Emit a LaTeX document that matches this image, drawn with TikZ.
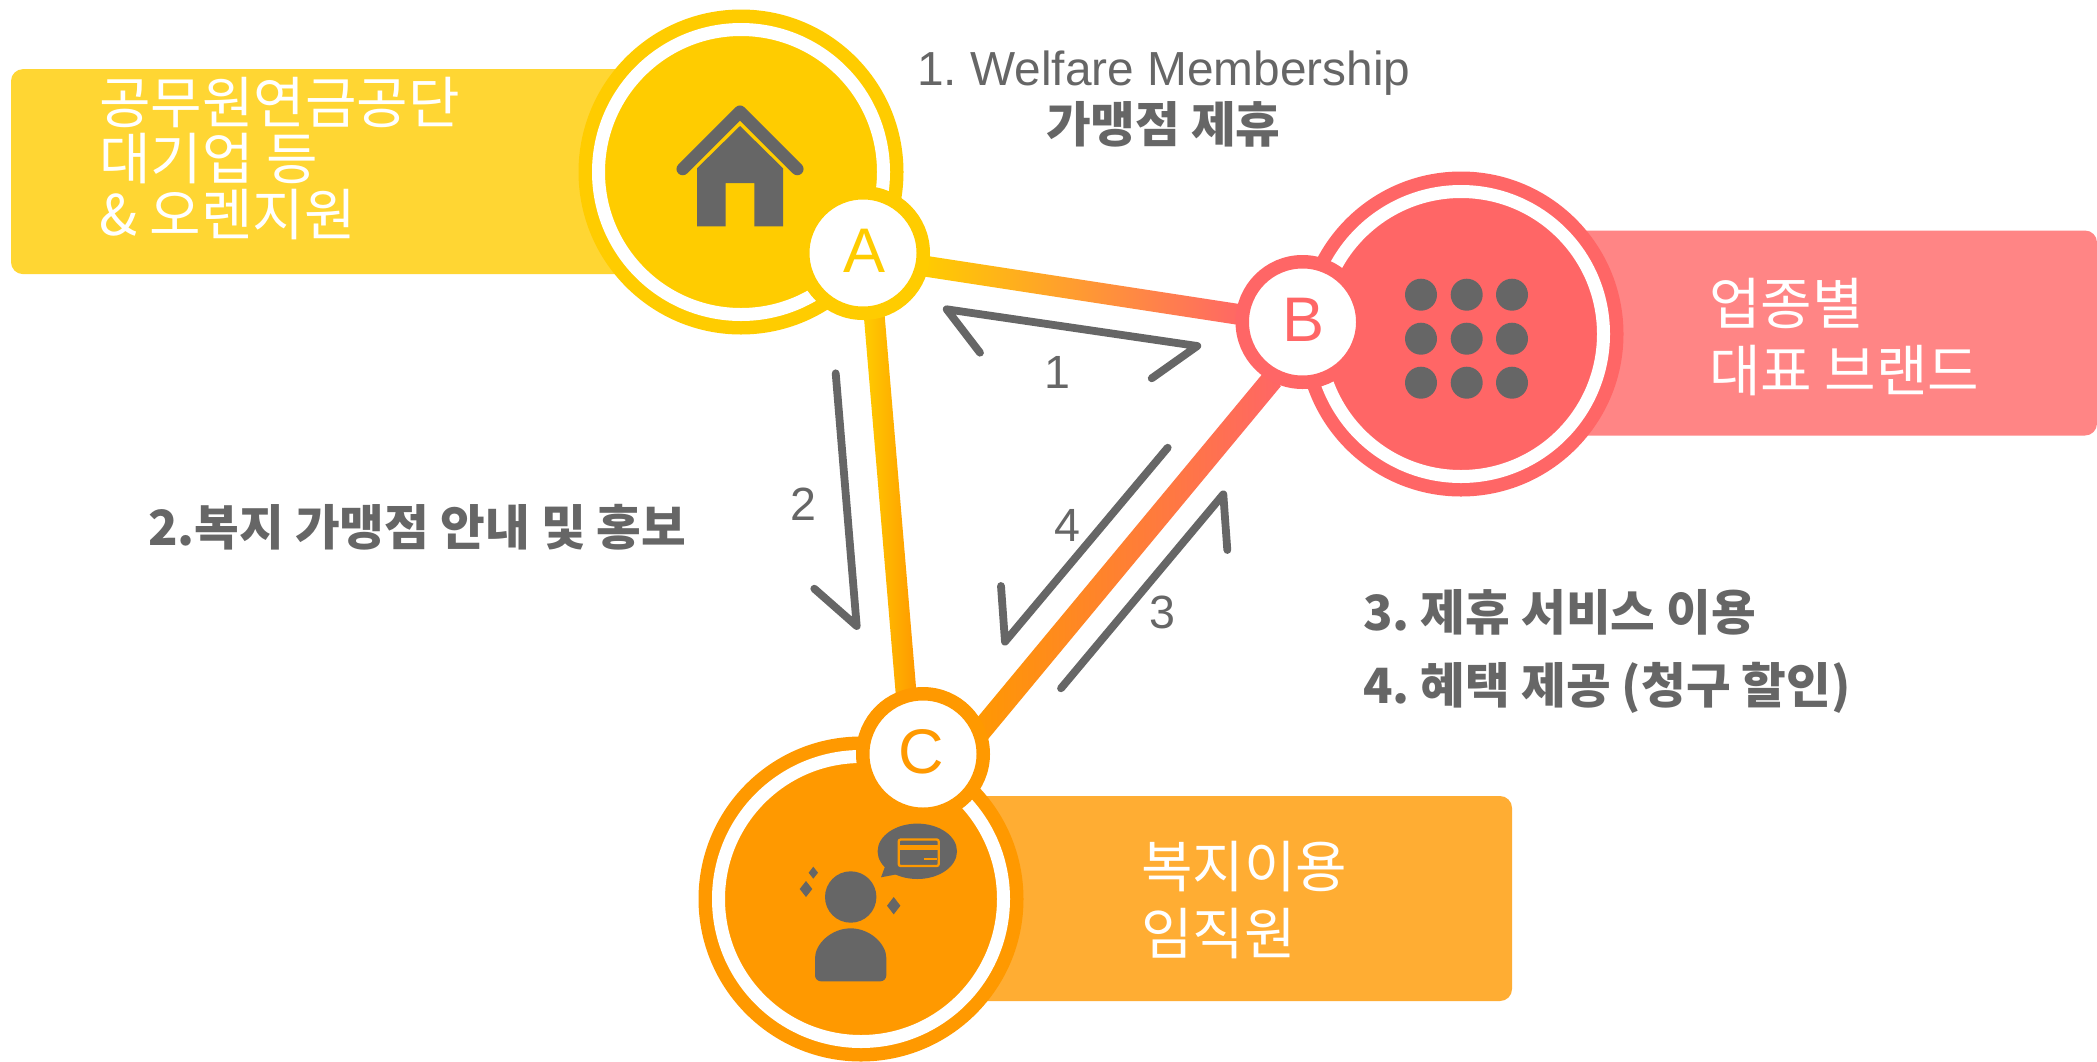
\documentclass[tikz,border=0pt]{standalone}
\usepackage{fontspec}
\setmainfont{Noto Sans CJK KR}
\newfontfamily\latinf{Liberation Sans}
\usetikzlibrary{calc}
\pgfdeclarelayer{background}
\pgfsetlayers{background,main}
\definecolor{cA}{HTML}{FFCC00}
\definecolor{cB}{HTML}{FF6666}
\definecolor{cC}{HTML}{FF9900}
\definecolor{pA}{HTML}{FFD633}
\definecolor{pB}{HTML}{FF8585}
\definecolor{pC}{HTML}{FFAD33}
\definecolor{ink}{HTML}{666666}
\tikzset{
  hub/.style={circle,draw=#1,fill=#1,double=white,double distance=13pt,line width=13.5pt,inner sep=0pt,outer sep=0pt,minimum size=285pt},
  badge/.style={circle,draw=#1,fill=white,text=#1,line width=13.5pt,inner sep=0pt,outer sep=0pt,minimum size=120.5pt,text depth=5pt,font=\latinf\fontsize{63}{63}\selectfont},
  panel/.style={rounded corners=12pt,fill=#1,inner sep=0pt,outer sep=0pt,minimum height=205pt},
  paneltext/.style={text=white,inner sep=0pt,outer sep=0pt,align=left,anchor=north west,font=\fontsize{56}{#1}\selectfont},
  boldtext/.style={text=ink,inner sep=0pt,outer sep=0pt,anchor=base west,font=\bfseries\fontsize{48.6}{49}\selectfont},
  digit/.style={text=ink,inner sep=0pt,outer sep=0pt,anchor=base,font=\latinf\fontsize{46.6}{47}\selectfont},
  flow/.style={draw=ink,line width=7.8pt,line cap=round,line join=round},
  icon/.style={fill=ink,draw=none}
}
\newcommand{\tube}[5]{\shade[left color=#1,right color=#2] ($(#3)!#5!90:(#4)$) -- ($(#3)!#5!-90:(#4)$) -- ($(#4)!#5!90:(#3)$) -- ($(#4)!#5!-90:(#3)$) -- cycle;}
\begin{document}
\frenchspacing
\begin{tikzpicture}[x=1pt,y=-1pt]
\useasboundingbox (0,0) rectangle (2097,1061);
\begin{pgfonlayer}{background}
  \fill[white] (0,0) rectangle (2097,1061);
  \node[panel=pA,minimum width=709pt] (panelA) at (365.5,171.6) {};
  \node[panel=pB,minimum width=597pt] (panelB) at (1798.5,333) {};
  \node[panel=pC,minimum width=612pt] (panelC) at (1206,898.5) {};
  \node[hub=cA] (hubA) at (741,172) {};
  \node[hub=cB] (hubB) at (1461,334) {};
  \node[hub=cC] (hubC) at (861,899) {};
\end{pgfonlayer}
\node[badge=cA] (a) at (863,253) {\hspace*{4pt}A};
\node[badge=cB] (b) at (1302.5,322) {\hspace*{2pt}B};
\node[badge=cC] (c) at (923,754) {C\hspace*{3pt}};
\coordinate (abS) at ($(a)+(61,13)$);
\coordinate (abE) at ($(b)+(-60,-7)$);
\coordinate (acS) at ($(a)+(11,60)$);
\coordinate (acE) at ($(c)+(-17,-62)$);
\coordinate (cbS) at ($(c)+(55,-20)$);
\coordinate (cbE) at ($(b)+(-30,57)$);
\begin{pgfonlayer}{background}
  \tube{cA}{cB}{abS}{abE}{10.4pt}
  \tube{cA}{cC}{acS}{acE}{10.4pt}
  \tube{cC}{cB}{cbS}{cbE}{11pt}
\end{pgfonlayer}
% house
\draw[draw=ink,line width=12.5pt,line cap=round,line join=round] (682.7,169) -- (740,111.7) -- (797.3,169);
\fill[icon] (697,168.3) -- (740,126) -- (783,168.3) -- (783,226.3) -- (754.3,226.3) -- (754.3,183) -- (725.7,183) -- (725.7,226.3) -- (697,226.3) -- cycle;
% dots
\foreach \dx in {1421,1466.7,1512} \foreach \dy in {294.7,338.7,382.7} \fill[icon] (\dx,\dy) circle (16pt);
% person
\fill[icon] (850.7,897) circle (25.7pt);
\fill[icon,rounded corners=6pt] (815,964) arc (180:0:35.67pt) -- (886.3,981.3) -- (815,981.3) -- cycle;
\fill[icon] (813.3,866.7) -- (818,872.7) -- (813.3,878.7) -- (808.6,872.7) -- cycle;
\fill[icon] (806,881) -- (812.3,889) -- (806,897) -- (799.7,889) -- cycle;
\fill[icon] (893.7,897) -- (900.4,905.7) -- (893.7,914.4) -- (887,905.7) -- cycle;
% bubble
\fill[icon] (917.3,851.3) ellipse (39.7pt and 27.7pt);
\fill[icon] (885,866.7) -- (881,877.3) -- (896.7,874.3) -- cycle;
\draw[cC,line width=2.3pt,rounded corners=2pt] (898.7,839.5) rectangle (938.7,866);
\fill[cC] (898.7,845) rectangle (938.7,850);
\draw[cC,line width=1.7pt] (924,859) -- (937,859);
% flow arrows
\coordinate (f1a) at (980,352.7);\coordinate (f1b) at (946.7,309.3);\coordinate (f1c) at (1197.3,346);\coordinate (f1d) at (1151.7,378.3);
\coordinate (f2a) at (835.7,373.3);\coordinate (f2b) at (856.7,626);\coordinate (f2c) at (814.3,588.7);
\coordinate (f3a) at (1061,688.3);\coordinate (f3b) at (1223.3,494.3);\coordinate (f3c) at (1227.3,550);
\coordinate (f4a) at (1167.7,447.7);\coordinate (f4b) at (1005,641.7);\coordinate (f4c) at (1001,586);
\draw[flow] (f1a) -- (f1b) -- (f1c) -- (f1d);
\draw[flow] (f2a) -- (f2b) -- (f2c);
\draw[flow] (f3a) -- (f3b) -- (f3c);
\draw[flow] (f4a) -- (f4b) -- (f4c);
\node[digit] (n1) at (1057,388) {1};
\node[digit] (n2) at (803,520) {2};
\node[digit] (n3) at (1162,628) {3};
\node[digit] (n4) at (1067,541) {4};
% labels
\node[paneltext=56] (tA) at (99,77) {공무원연금공단\\대기업 등\\\& 오렌지원};
\node[paneltext=67] (tB) at (1709,278) {업종별\\대표 브랜드};
\node[paneltext=67] (tC) at (1141,841) {복지이용\\임직원};
\node[text=ink,inner sep=0pt,anchor=base west,font=\latinf\fontsize{47.8}{48}\selectfont] (t1) at (917,85) {1. Welfare Membership};
\node[boldtext] (t1b) at (1046,142) {가맹점 제휴};
\node[boldtext] (t2) at (148,545) {2.복지 가맹점 안내 및 홍보};
\node[boldtext] (t3) at (1363,630) {3. 제휴 서비스 이용};
\node[boldtext] (t4) at (1363,703) {4. 혜택 제공 (청구 할인)};
\end{tikzpicture}
\end{document}
